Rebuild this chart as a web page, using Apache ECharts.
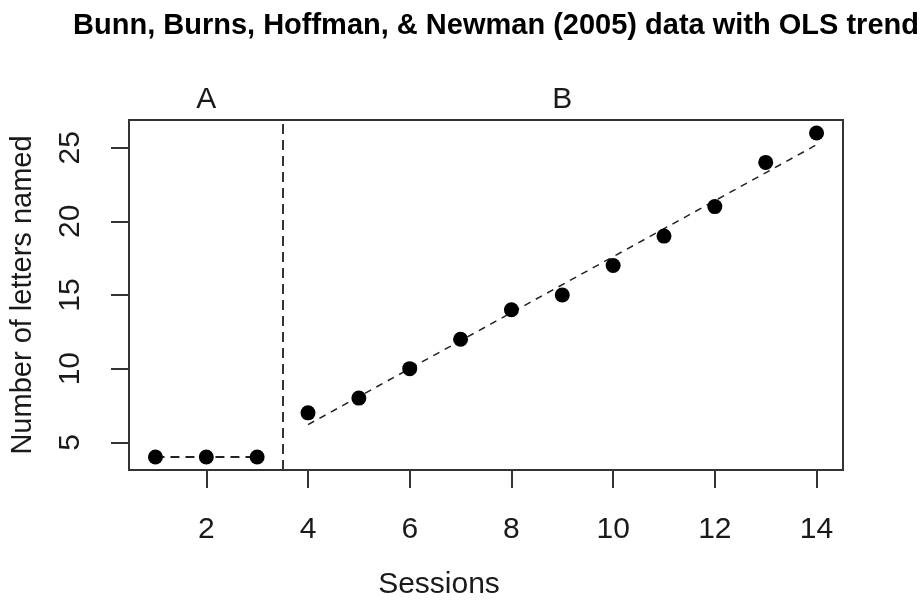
<!DOCTYPE html>
<html>
<head>
<meta charset="utf-8">
<script src="https://cdn.jsdelivr.net/npm/echarts@6/dist/echarts.min.js"></script>
<style>
html, body { margin: 0; padding: 0; background: #fff; }
#main { width: 924px; height: 605px; }
</style>
</head>
<body>
<div id="main"></div>
<script>
// sessions and letters named, phase A (baseline) and phase B
var phaseA = [[1, 4], [2, 4], [3, 4]];
var phaseB = [[4, 7], [5, 8], [6, 10], [7, 12], [8, 14], [9, 15], [10, 17], [11, 19], [12, 21], [13, 24], [14, 26]];
// OLS trend ends
var trendA = [[1, 4], [3, 4]];
var trendB = [[4, 6.2], [14, 25.2]];
var phaseNames = ['A', 'B'];
var phaseMid = [2, 9];
var phaseChange = 3.5;
var xTicks = [2, 4, 6, 8, 10, 12, 14];
var yTicks = [5, 10, 15, 20, 25];
var xRange = [0.48, 14.52];
var yRange = [3.12, 26.88];

var font = 'Liberation Sans, Arial, sans-serif';
var ink = '#1a1a1a';

var myChart = echarts.init(document.getElementById('main'));

var labelData = [];
for (var i = 0; i < phaseNames.length; i++) {
    labelData.push({ value: [phaseMid[i], yRange[1]], name: phaseNames[i] });
}

var option = {
    animation: false,
    backgroundColor: '#fff',
    title: {
        text: 'Bunn, Burns, Hoffman, & Newman (2005) data with OLS trend',
        left: 491,
        top: 6,
        textAlign: 'center',
        textStyle: { fontFamily: font, fontWeight: 'bold', fontSize: 29, color: '#000' }
    },
    grid: {
        left: 128, right: 81, top: 120, bottom: 133,
        show: true, borderColor: '#333', borderWidth: 2
    },
    xAxis: {
        type: 'value',
        min: xRange[0], max: xRange[1],
        name: 'Sessions',
        nameLocation: 'middle',
        nameGap: 100,
        nameTextStyle: { fontFamily: font, fontSize: 30, color: ink, padding: [0, 94, 0, 0] },
        splitLine: { show: false },
        axisLine: { show: false },
        axisTick: { show: true, length: 18, lineStyle: { color: '#333', width: 2 }, customValues: xTicks },
        axisLabel: { fontFamily: font, fontSize: 30, color: ink, margin: 45, customValues: xTicks }
    },
    yAxis: {
        type: 'value',
        min: yRange[0], max: yRange[1],
        name: 'Number of letters named',
        nameLocation: 'middle',
        nameGap: 92,
        nameTextStyle: { fontFamily: font, fontSize: 29, color: ink },
        splitLine: { show: false },
        axisLine: { show: false },
        axisTick: { show: true, length: 18, lineStyle: { color: '#333', width: 2 }, customValues: yTicks },
        axisLabel: { fontFamily: font, fontSize: 30, color: ink, margin: 43, rotate: 90, customValues: yTicks }
    },
    series: [
        {
            type: 'line',
            data: trendA,
            symbol: 'none',
            lineStyle: { color: '#222', width: 2, type: [9, 6] },
            z: 2
        },
        {
            type: 'line',
            data: trendB,
            symbol: 'none',
            lineStyle: { color: '#222', width: 1.5, type: [7, 6] },
            z: 2
        },
        {
            type: 'scatter',
            data: phaseA.concat(phaseB),
            symbolSize: 15,
            itemStyle: { color: '#000', opacity: 1 },
            z: 3
        },
        {
            type: 'line',
            data: [],
            markLine: {
                silent: true,
                symbol: 'none',
                label: { show: false },
                lineStyle: { color: '#333', width: 2, type: [10, 6] },
                data: [{ xAxis: phaseChange }]
            }
        },
        {
            type: 'scatter',
            data: labelData,
            symbolSize: 0,
            itemStyle: { opacity: 1 },
            label: {
                show: true,
                position: 'top',
                distance: 5,
                formatter: '{b}',
                fontFamily: font,
                fontSize: 30,
                color: ink
            }
        }
    ]
};

myChart.setOption(option);
</script>
</body>
</html>
